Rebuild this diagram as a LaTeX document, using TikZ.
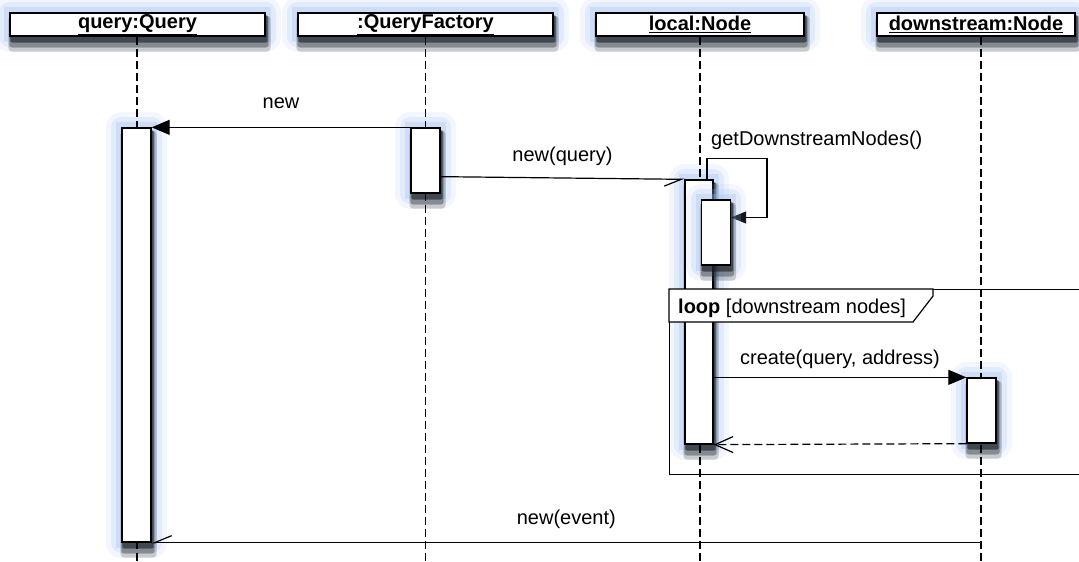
\documentclass[tikz,border=0pt]{standalone}
\usepackage{fontspec}
\setmainfont{Liberation Sans}
\usepackage{tikz}
\usetikzlibrary{arrows.meta}
\definecolor{glowblue}{HTML}{9DBDF0}
\pgfdeclarelayer{background}
\pgfdeclarelayer{shade}
\pgfdeclarelayer{front}
\pgfsetlayers{background,main,shade,front}

% blue glow and drop shadow behind a box node
\newcommand{\boxshade}[1]{%
  \draw[glowblue,line width=30pt,opacity=.12,line join=round] (#1.south west) rectangle (#1.north east);
  \draw[glowblue,line width=20pt,opacity=.2,line join=round] (#1.south west) rectangle (#1.north east);
  \draw[glowblue,line width=10pt,opacity=.3] (#1.south west) rectangle (#1.north east);
  \fill[black,opacity=.18,rounded corners=4pt] ([xshift=-1pt,yshift=-15pt]#1.south west) rectangle ([xshift=5pt,yshift=-3pt]#1.north east);
  \fill[black,opacity=.28,rounded corners=3pt] ([yshift=-11pt]#1.south west) rectangle ([xshift=3pt,yshift=-3pt]#1.north east);
  \fill[black,opacity=.45,rounded corners=2pt] ([xshift=1pt,yshift=-6pt]#1.south west) rectangle ([xshift=2pt,yshift=-3pt]#1.north east);
}

\begin{document}
\begin{tikzpicture}[
  x=1pt, y=-1pt,
  font=\fontsize{20}{24}\selectfont,
  head/.style={draw,line width=1.3pt,fill=white,minimum height=23pt,inner sep=0pt},
  act/.style={draw,line width=1.3pt,fill=white,minimum width=29pt,inner sep=0pt},
  lifeline/.style={line width=1.2pt,dash pattern=on 8pt off 4pt},
  msg/.style={line width=1.2pt,-{Triangle[length=18pt,width=15pt]}},
  selfmsg/.style={line width=1.2pt,-{Triangle[length=15pt,width=12pt]}},
  async/.style={line width=1.2pt,-{Straight Barb[right,length=17pt,width=14pt]}},
  reply/.style={line width=1.2pt,dash pattern=on 8pt off 4pt,-{Straight Barb[length=18pt,width=16pt]}},
  lbl/.style={inner sep=0pt,anchor=base}
]
\useasboundingbox (0,0) rectangle (1079,562);

% objects
\node[head,minimum width=255pt] (qhead) at (137.5,24.5) {\underline{\textbf{query:Query}}};
\node[head,minimum width=255pt] (fhead) at (425.5,24.5) {\underline{\textbf{:QueryFactory}}};
\node[head,minimum width=208pt] (lhead) at (700,24.5) {\underline{\textbf{local:Node}}};
\node[head,minimum width=198pt] (dhead) at (976,24.5) {\underline{\textbf{downstream:Node}}};

% lifelines
\coordinate (qend) at (137,562);
\coordinate (fend) at (425.5,562);
\coordinate (lend) at (700,562);
\coordinate (dend) at (981,562);
\draw[lifeline] (qhead.south -| qend) -- (qend);
\draw[lifeline] (fhead.south -| fend) -- (fend);
\draw[lifeline] (lhead.south -| lend) -- (lend);
\draw[lifeline] (dhead.south -| dend) -- (dend);

% activations
\node[act,minimum height=414pt] (qact) at (136.5,335) {};
\node[act,minimum height=65pt] (fact) at (425.5,160.5) {};
\node[act,minimum height=264pt,minimum width=28pt] (lact) at (699,312) {};
\node[act,minimum height=65pt] (dact) at (981.5,410.5) {};
\begin{pgfonlayer}{front}
\node[act,minimum height=65pt] (nact) at (716,232.5) {};
\end{pgfonlayer}

% glow and shadows
\begin{pgfonlayer}{background}
\foreach \n in {qhead,fhead,lhead,dhead,qact,fact,lact,dact}{\boxshade{\n}}
\end{pgfonlayer}
\begin{pgfonlayer}{shade}
\boxshade{nact}
\end{pgfonlayer}

% loop fragment
\node[draw,line width=1.2pt,minimum width=430pt,minimum height=185pt,anchor=north west] (loopframe) at (669,289) {};
\draw[line width=1.2pt,fill=white] (loopframe.north west) -- (933,289) -- (933,296) -- (913,322) -- (669,322) -- cycle;
\node[lbl,anchor=base west] (looplbl) at (678,313) {\textbf{loop} [downstream nodes]};

% messages
\draw[msg] (fact.north west) -- (qact.north east)
  node[lbl,midway,yshift=19pt] (newlbl) {new};
\draw[async] ([yshift=17pt]fact.south east) -- (lact.north west)
  node[lbl,midway,yshift=17pt] (querylbl) {new(query)};
\draw[selfmsg] ([xshift=8pt]lact.north) -- ++(0,-21) coordinate (selfcorner)
  -- ++(60,0) |- ([yshift=15pt]nact.east);
\node[lbl,anchor=base west] (getlbl) at ([xshift=4pt,yshift=13pt]selfcorner) {getDownstreamNodes()};
\draw[msg] (lact.east |- dact.north west) -- (dact.north west)
  node[lbl,midway,yshift=13pt] (createlbl) {create(query, address)};
\draw[reply] (dact.south west) -- (lact.south east);
\draw[async] (dend |- qact.south east) -- (qact.south east)
  node[lbl,midway,yshift=18pt] (eventlbl) {new(event)};
\end{tikzpicture}
\end{document}
